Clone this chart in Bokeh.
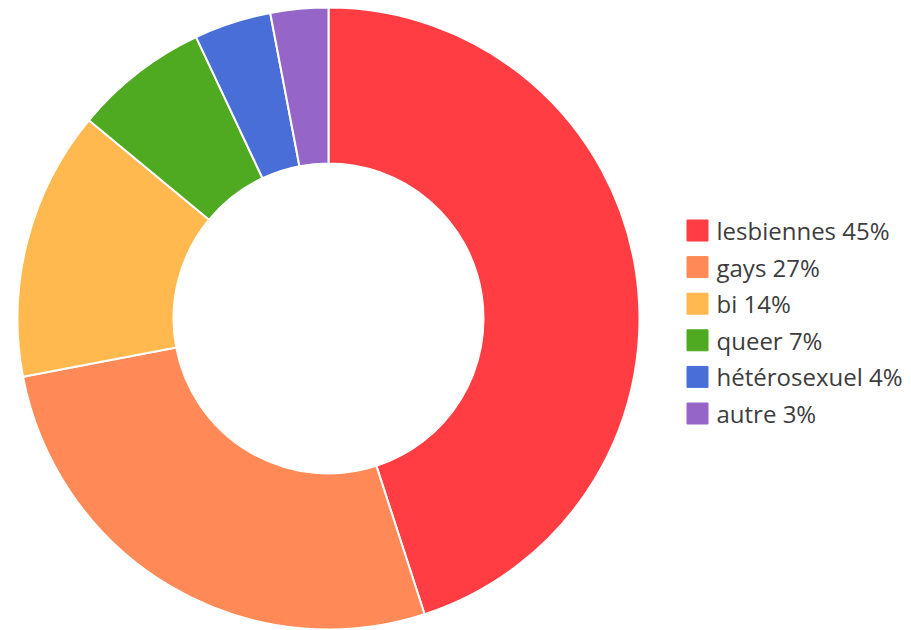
import math
from bokeh.plotting import figure
from bokeh.models import ColumnDataSource, Range1d
from bokeh.core.properties import value
from bokeh.embed import file_html
from bokeh.resources import INLINE

categories = ["lesbiennes", "gays", "bi", "queer", "hétérosexuel", "autre"]
percents = [45, 27, 14, 7, 4, 3]
colors = ["#FF3D42", "#FF8A57", "#FFB94F", "#4FAA22", "#4A6ED8", "#9566C8"]

W, H = 911, 630
cx, cy = 328, H - 318
R_out, R_in = 311, 155

total = sum(percents)
starts, ends = [], []
acc = 0.0
for v in percents:
    a0 = math.pi / 2 - 2 * math.pi * acc / total
    acc += v
    a1 = math.pi / 2 - 2 * math.pi * acc / total
    starts.append(a0)
    ends.append(a1)

src = ColumnDataSource(dict(start=starts, end=ends, color=colors,
                            x=[cx] * len(percents), y=[cy] * len(percents)))

p = figure(width=W, height=H, output_backend="svg", toolbar_location=None,
           x_range=Range1d(0, W), y_range=Range1d(0, H), min_border=0,
           outline_line_color=None)
p.axis.visible = False
p.grid.visible = False
p.background_fill_color = "white"
p.border_fill_color = "white"

p.annular_wedge(x="x", y="y", inner_radius=R_in, outer_radius=R_out,
                start_angle="start", end_angle="end", direction="clock",
                fill_color="color", line_color="white", line_width=2, source=src)

# legend
top = H - 230
step = 36.6
ly = [top - i * step for i in range(len(categories))]
labels = [f"{c} {v}%" for c, v in zip(categories, percents)]
lsrc = ColumnDataSource(dict(x=[697] * len(ly), tx=[716] * len(ly), y=ly,
                             color=colors, label=labels))
p.rect(x="x", y="y", width=21, height=21, fill_color="color",
       line_color="color", source=lsrc)
p.text(x="tx", y="y", text="label", text_baseline="middle", text_align="left",
       text_font=value("Open Sans"), text_font_size="24px", text_color="#3d3d3d",
       source=lsrc)

open("out.html", "w").write(file_html(p, INLINE))
